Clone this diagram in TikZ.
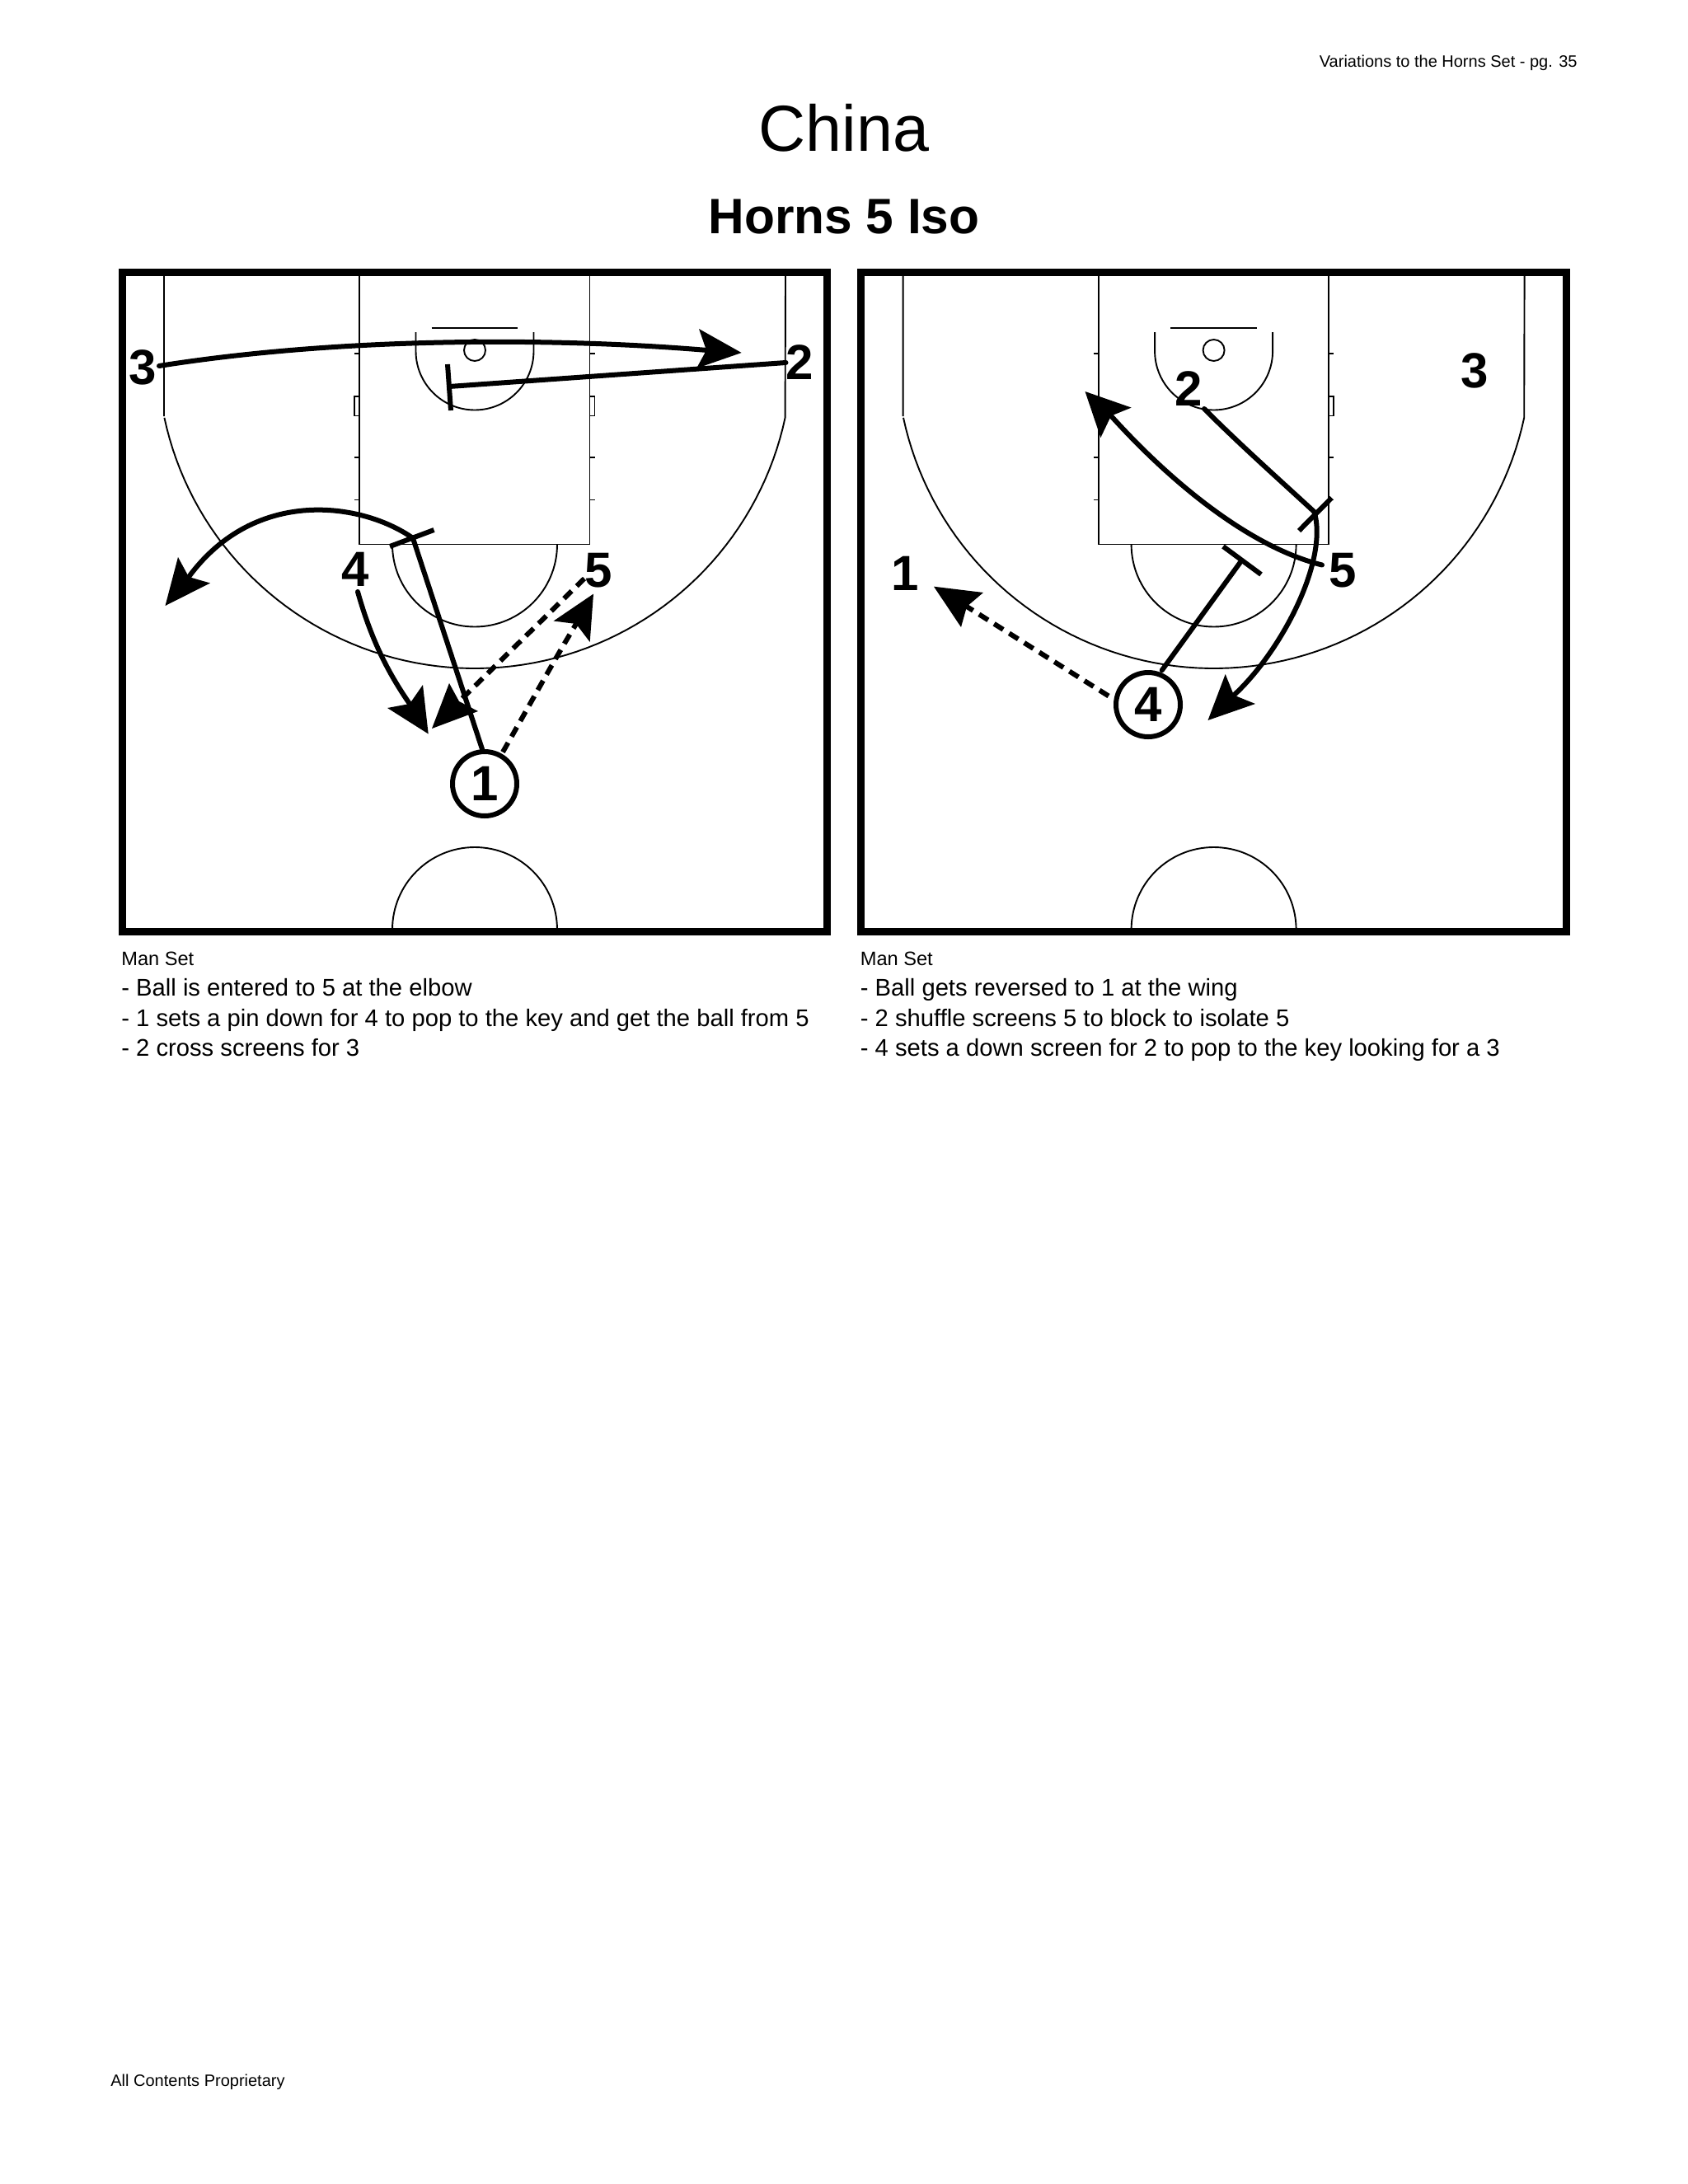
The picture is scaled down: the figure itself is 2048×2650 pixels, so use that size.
\documentclass[tikz,border=0pt]{standalone}
\usepackage{fontspec}
\setmainfont{Liberation Sans}
\newcommand{\kite}[4]{\fill[black] (#1) -- (#2) -- (#3) -- (#4) -- cycle;}
\newcommand{\courtbase}{%
  \draw[frameline] (148,330) rectangle (1003.5,1130);
  \draw[courtline] (199,333) -- (199,505) plot[domain=168:12,samples=80] ({576+385*cos(\x)},{427+384*sin(\x)}) -- (953,333);
  \draw[courtline] (436,333) -- (436,660.5) -- (715.5,660.5) -- (715.5,333);
  \draw[courtline] (476,660.5) arc[start angle=180,end angle=360,x radius=100,y radius=-100];
  \draw[courtline] (476,1128) arc[start angle=180,end angle=0,x radius=100,y radius=-100];
  \draw[courtline] (504.5,403) -- (504.5,426) arc[start angle=180,end angle=360,x radius=71.5,y radius=-71.5] -- (647.5,403);
  \draw[courtline] (523.5,398) -- (628,398);
  \draw[courtline] (576,425) circle[radius=6.5pt];
  \foreach \yy in {429,555,606.5}{
    \draw[courtline] (430,\yy) -- (436,\yy);
    \draw[courtline] (715.5,\yy) -- (721.5,\yy);
  }
  \draw[courtline] (715.5,481) rectangle (721.5,504.5);
}
\tikzset{
  frameline/.style={line width=4.5pt,draw=black},
  courtline/.style={line width=0.95pt,draw=black},
  runline/.style={line width=3pt,draw=black,line cap=round},
  passline/.style={line width=3pt,draw=black,dash pattern=on 6.5pt off 4.3pt},
  player/.style={font=\fontsize{30}{30}\selectfont\bfseries,inner sep=0pt},
  ringed/.style={player,circle,draw=black,line width=3pt,fill=white,minimum size=39pt},
  tiny/.style={font=\fontsize{10}{12}\selectfont,inner sep=0pt,anchor=base west},
  small/.style={font=\fontsize{11.8}{14}\selectfont,inner sep=0pt,anchor=base west},
  body/.style={font=\fontsize{14.6}{17}\selectfont,inner sep=0pt,anchor=base west},
}
\begin{document}
\begin{tikzpicture}[x=0.5pt,y=-0.5pt]
\useasboundingbox (0,0) rectangle (2048,2650);
\fill[white] (0,0) rectangle (2048,2650);
\node[tiny,anchor=base east] (hdr) at (1914,81) {Variations to the Horns Set - pg. 35};
\node[font=\fontsize{39.5}{40}\selectfont,inner sep=0pt,anchor=base] (ttl) at (1024,183) {China};
\node[font=\fontsize{30.2}{30}\selectfont\bfseries,inner sep=0pt,anchor=base] (sub) at (1024,283) {Horns 5 Iso};
\node[tiny] (ftr) at (134,2531) {All Contents Proprietary};
% LEFT
\courtbase
\draw[courtline] (430,481) rectangle (436,504.5);
\node[player] (a3) at (173,446) {3};
\node[player] (a2) at (970,440) {2};
\node[player] (a4) at (431.5,691) {4};
\node[player] (a5) at (726.5,692) {5};
\node[ringed] (a1) at (588,951) {1};
\coordinate (c3s) at (193,444);
\coordinate (c3e) at (858,425);
\draw[runline] (c3s) .. controls (420,408) and (680,410) .. (c3e);
\kite{899.6,428}{848,399}{857,425}{845,447}
\coordinate (c2s) at (953.5,440);
\coordinate (c2e) at (545,469);
\coordinate (c2a) at (543,442);
\coordinate (c2b) at (547,498);
\draw[runline] (c2s) -- (c2e);
\draw[runline,line cap=butt] (c2a) -- (c2b);
\coordinate (c1e) at (501,653);
\coordinate (c1a) at (473,663);
\coordinate (c1b) at (526.5,643);
\draw[runline] (a1.north) ++(-3,0) -- (c1e);
\draw[runline,line cap=butt] (c1a) -- (c1b);
\coordinate (c5n) at (229,700);
\draw[runline] (c1e) .. controls (440,610) and (310,590) .. (c5n);
\kite{200.5,735}{216,676}{229,700}{255,707.5}
\coordinate (c4s) at (434,718);
\coordinate (c4e) at (497,854);
\draw[runline] (c4s) .. controls (450,775) and (470,815) .. (c4e);
\kite{519.7,890.5}{470,859}{497,854}{513,831}
\coordinate (p5s) at (709,702);
\coordinate (p5e) at (552,856);
\draw[passline] (p5s) -- (p5e);
\kite{524,884}{545,829}{557,851}{580,863}
\coordinate (p1s) at (610,912.5);
\coordinate (p1e) at (699,757);
\draw[passline] (p1s) .. controls (640,860) and (670,805) .. (p1e);
\kite{720,720.6}{671.6,753.5}{699,757}{715.7,779}
% RIGHT
\begin{scope}[shift={(896.6,0)}]
\courtbase
\end{scope}
\node[player] (b2) at (1442,472) {2};
\node[player] (b3) at (1789,450) {3};
\node[player] (b1) at (1098,696) {1};
\node[player] (b5) at (1629.5,692) {5};
\node[ringed] (b4) at (1393,855) {4};
\coordinate (d2s) at (1461,496);
\coordinate (d2e) at (1594.5,621);
\coordinate (d2a) at (1576,644);
\coordinate (d2b) at (1615.7,604);
\draw[runline] (d2s) .. controls (1505,540) and (1550,580) .. (d2e);
\draw[runline,line cap=butt] (d2a) -- (d2b);
\coordinate (d3e) at (1497,843.5);
\draw[runline] (d2e) .. controls (1612,680) and (1555,790) .. (d3e);
\kite{1465.5,874}{1486.7,818}{1497,843.5}{1523,854}
\coordinate (d5s) at (1604,685.5);
\coordinate (d5e) at (1348,504.6);
\draw[runline] (d5s) .. controls (1520,665) and (1425,590) .. (d5e);
\kite{1316.5,475}{1372.7,494.6}{1348,504.6}{1335.4,531}
\coordinate (d4e) at (1505,682);
\coordinate (d4a) at (1484,663);
\coordinate (d4b) at (1530,697);
\draw[runline] (b4.north east) ++(-13,-12) -- (d4e);
\draw[runline,line cap=butt] (d4a) -- (d4b);
\coordinate (q4s) at (1345,844.5);
\coordinate (q4e) at (1173,736);
\draw[passline] (q4s) -- (q4e);
\kite{1133,711.7}{1193,719}{1173,736}{1166,761}
% NOTES
\node[small] (ln0) at (147,1171) {Man Set};
\node[body] (ln1) at (147,1208) {- Ball is entered to 5 at the elbow};
\node[body] (ln2) at (147,1245) {- 1 sets a pin down for 4 to pop to the key and get the ball from 5};
\node[body] (ln3) at (147,1281) {- 2 cross screens for 3};
\node[small] (rn0) at (1043.5,1171) {Man Set};
\node[body] (rn1) at (1043.5,1208) {- Ball gets reversed to 1 at the wing};
\node[body] (rn2) at (1043.5,1245) {- 2 shuffle screens 5 to block to isolate 5};
\node[body] (rn3) at (1043.5,1281) {- 4 sets a down screen for 2 to pop to the key looking for a 3};
\end{tikzpicture}
\end{document}
